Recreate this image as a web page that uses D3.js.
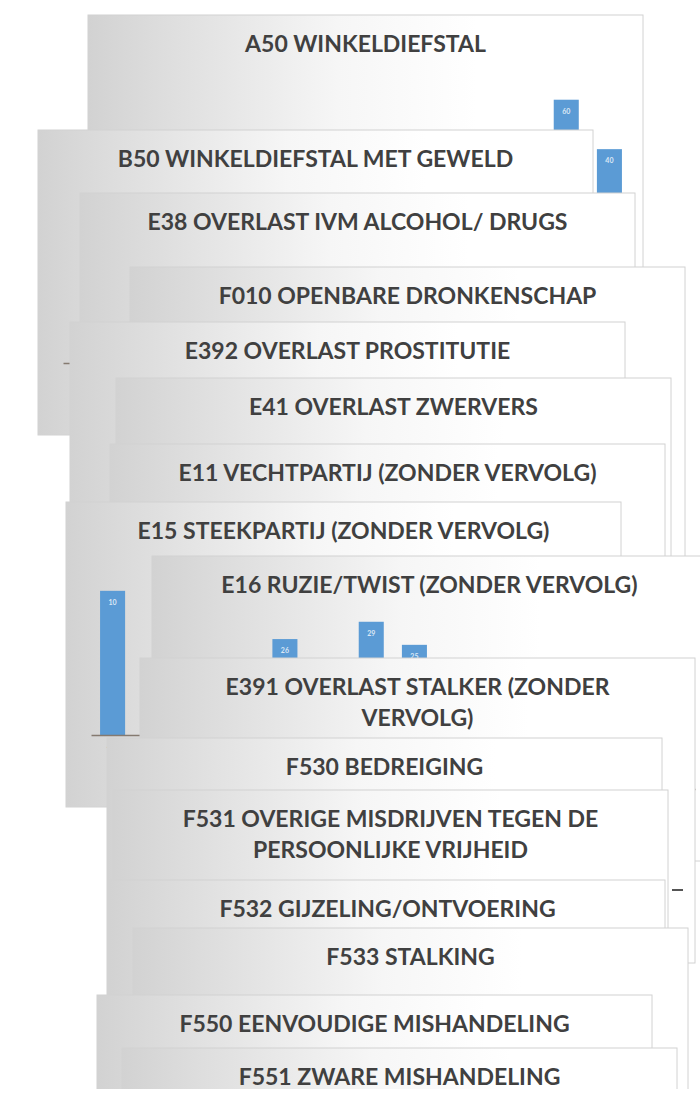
<!DOCTYPE html>
<html>
<head>
<meta charset="utf-8">
<script src="https://cdn.jsdelivr.net/npm/d3@7"></script>
<style>
body { margin: 0; background: #fff; }
svg { display: block; }
.title { font-family: Lato, "Open Sans", sans-serif; font-weight: 700; fill: #404040; }
.cat text { font-family: Lato, sans-serif; font-size: 9px; fill: #595959; }
</style>
</head>
<body>
<svg id="chart" width="700" height="1101"></svg>
<script>
// chart titles, one per card, in stacking order (first = bottom)
var titles = [
    ["A50 WINKELDIEFSTAL"],
    ["B50 WINKELDIEFSTAL MET GEWELD"],
    ["E38 OVERLAST IVM ALCOHOL/ DRUGS"],
    ["F010 OPENBARE DRONKENSCHAP"],
    ["E392 OVERLAST PROSTITUTIE"],
    ["E41 OVERLAST ZWERVERS"],
    ["E11 VECHTPARTIJ (ZONDER VERVOLG)"],
    ["E15 STEEKPARTIJ (ZONDER VERVOLG)"],
    ["E16 RUZIE/TWIST (ZONDER VERVOLG)"],
    ["E391 OVERLAST STALKER (ZONDER", "VERVOLG)"],
    ["F530 BEDREIGING"],
    ["F531 OVERIGE MISDRIJVEN TEGEN DE", "PERSOONLIJKE VRIJHEID"],
    ["F532 GIJZELING/ONTVOERING"],
    ["F533 STALKING"],
    ["F550 EENVOUDIGE MISHANDELING"],
    ["F551 ZWARE MISHANDELING"]
];

var months = ["jan", "feb", "mrt", "apr", "mei", "jun", "jul", "aug", "sep", "okt", "nov", "dec"];

// the few series that peek out from under the stack
var a50Values = [18, 22, 30, 25, 12, 35, 28, 20, 15, 33, 60, 40];
var b50Values = [0, 3, 5, 2, 4, 6, 1, 3, 2, 5, 4, 3];
var e15Values = [10, 4, 2, 6, 3, 5, 1, 7, 2, 4, 3, 5];
var e16Values = [15, 12, 26, 8, 29, 25, 18, 10, 20, 14, 9, 16];
var axisMax = {a50: 70, b50: 8, e15: 12, e16: 30};

// where each card sits in the pile (layout only)
var cardLeft = [88, 38, 80, 130, 70, 116, 110, 66, 152, 140, 107, 113, 110, 133, 97, 122];
var cardTop = [15, 130, 193, 267, 322, 378, 444, 502, 556, 658, 738, 790, 880, 928, 995, 1048];
var cardW = 555, cardH = 305;

var charts = {
    0: {values: a50Values, max: axisMax.a50},
    1: {values: b50Values, max: axisMax.b50},
    7: {values: e15Values, max: axisMax.e15},
    8: {values: e16Values, max: axisMax.e16}
};

var svg = d3.select("#chart");
var defs = svg.append("defs");

var grad = defs.append("linearGradient")
        .attr("id", "cardfill")
        .attr("x1", 0).attr("x2", 1).attr("y1", 0).attr("y2", 0);
grad.append("stop").attr("offset", 0).attr("stop-color", "#d2d2d2");
grad.append("stop").attr("offset", 0.12).attr("stop-color", "#dcdcdc");
grad.append("stop").attr("offset", 0.45).attr("stop-color", "#f6f6f6");
grad.append("stop").attr("offset", 0.7).attr("stop-color", "#ffffff");

defs.append("clipPath").attr("id", "page")
    .append("rect").attr("width", 700).attr("height", 1089);

var root = svg.append("g").attr("clip-path", "url(#page)");

titles.forEach(function(lines, i) {
    var x0 = cardLeft[i], y0 = cardTop[i];
    var g = root.append("g").attr("transform", "translate(" + x0 + "," + y0 + ")");

    g.append("rect")
        .attr("width", cardW)
        .attr("height", cardH)
        .attr("fill", "url(#cardfill)")
        .attr("stroke", "#d2d2d2");

    g.append("text")
        .attr("class", "title")
        .attr("x", cardW / 2)
        .attr("y", 37)
        .attr("text-anchor", "middle")
        .style("font-size", "23px")
        .selectAll("tspan")
        .data(lines)
        .enter()
        .append("tspan")
        .attr("x", cardW / 2)
        .attr("dy", function(d, j) { return j == 0 ? 0 : 31; })
        .text(function(d) { return d; });

    var c = charts[i];
    if (!c) return;

    var x = d3.scaleBand()
            .domain(months)
            .range([25, cardW - 12])
            .paddingInner(0.42)
            .paddingOuter(0.21);
    var y = d3.scaleLinear()
            .domain([0, c.max])
            .range([233, 60]);

    g.selectAll(".bar")
        .data(c.values)
        .enter()
        .append("rect")
        .attr("class", "bar")
        .attr("x", function(d, k) { return x(months[k]); })
        .attr("y", function(d) { return y(d); })
        .attr("width", x.bandwidth())
        .attr("height", function(d) { return y(0) - y(d); })
        .attr("fill", "#5b9bd5");

    g.selectAll(".lbl")
        .data(c.values)
        .enter()
        .append("text")
        .attr("class", "lbl small")
        .attr("data-card", i)
        .attr("x", function(d, k) { return x(months[k]) + x.bandwidth() / 2; })
        .attr("y", function(d) { return y(d) + 14; })
        .attr("text-anchor", "middle")
        .style("font", "bold 7px Lato, sans-serif")
        .style("fill", "#dce8f5")
        .text(function(d) { return d > 0 ? d : ""; });

    var ax = g.append("g")
            .attr("class", "cat")
            .attr("transform", "translate(0," + y(0) + ")")
            .call(d3.axisBottom(x).tickSize(0).tickSizeOuter(0));
    ax.select(".domain").attr("stroke", "#857a70").attr("stroke-width", 1.5);
    ax.selectAll("text")
        .attr("class", "small")
        .attr("data-card", i)
        .attr("text-anchor", "end")
        .attr("dx", "-0.2em")
        .attr("dy", "0.9em")
        .attr("transform", "rotate(-45)");
});

// legend key of the E391 card that shows on the right
root.append("line")
    .attr("x1", cardLeft[9] + 532).attr("x2", cardLeft[9] + 543)
    .attr("y1", cardTop[9] + 232).attr("y2", cardTop[9] + 232)
    .attr("stroke", "#555").attr("stroke-width", 2);

// drop small labels that lie completely under a later card
function buried(b, i) {
    for (var j = i + 1; j < titles.length; j++) {
        if (b.left >= cardLeft[j] && b.right <= cardLeft[j] + cardW &&
            b.top >= cardTop[j] && b.bottom <= cardTop[j] + cardH) return true;
    }
    return false;
}
d3.selectAll("text.small").each(function() {
    var b = this.getBoundingClientRect();
    if (!this.textContent || buried(b, +this.getAttribute("data-card"))) d3.select(this).remove();
});
</script>
</body>
</html>
